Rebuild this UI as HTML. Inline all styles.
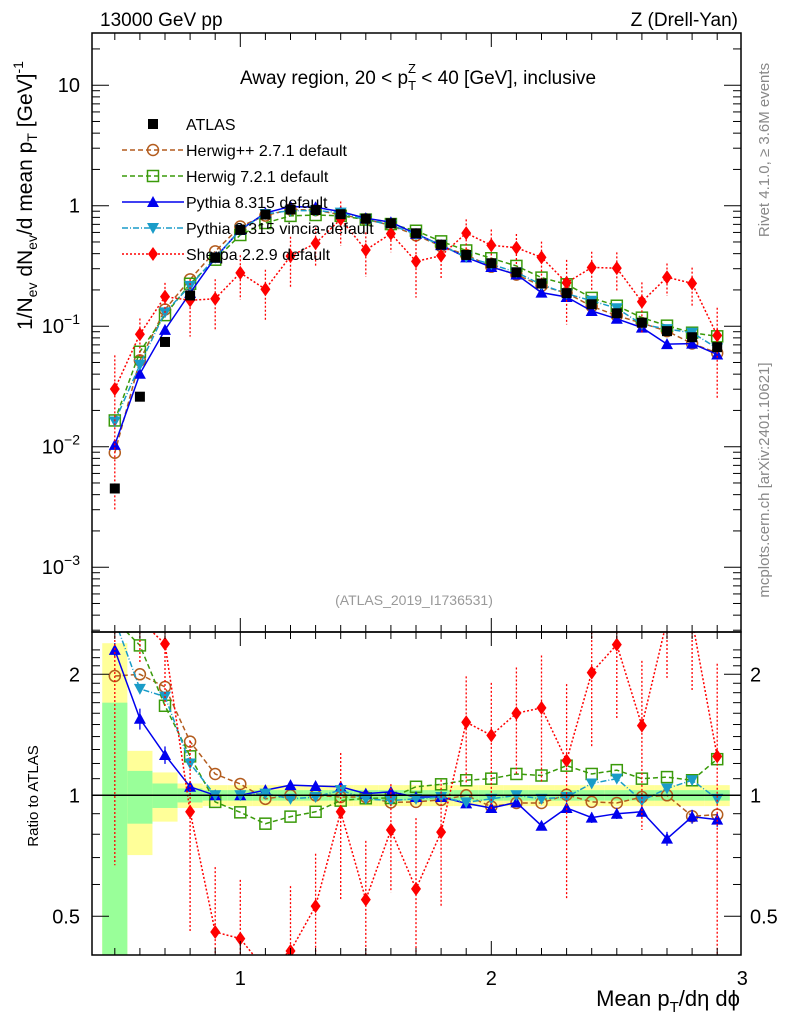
<!DOCTYPE html>
<html><head><meta charset="utf-8">
<style>
html,body{margin:0;padding:0;background:#fff;width:786px;height:1024px;overflow:hidden;}
svg{display:block;font-family:"Liberation Sans",sans-serif;}
</style></head>
<body>
<svg id="chart" width="786" height="1024" viewBox="0 0 786 1024" xmlns="http://www.w3.org/2000/svg">
<defs>
<clipPath id="clipMain"><rect x="92" y="33" width="649" height="599"/></clipPath>
<clipPath id="clipRatio"><rect x="92" y="632" width="649" height="323"/></clipPath>
</defs>
<g id="bands" clip-path="url(#clipRatio)"></g>
<g id="marks"></g>
<g id="axes" stroke="#000" stroke-width="1"></g>
<rect x="92" y="33" width="649" height="599" fill="none" stroke="#000" stroke-width="1.5"/>
<rect x="92" y="632" width="649" height="323" fill="none" stroke="#000" stroke-width="1.5"/>
<line x1="92" y1="795.3" x2="741" y2="795.3" stroke="#000" stroke-width="1.5"/>
<text x="100" y="26" font-size="19">13000 GeV pp</text>
<text x="738" y="26" font-size="19" text-anchor="end">Z (Drell-Yan)</text>
<text x="418" y="84" font-size="19" text-anchor="middle">Away region, 20 &lt; p<tspan font-size="13" dy="6">T</tspan><tspan font-size="13" dx="-8" dy="-17">Z</tspan><tspan dy="11"> &lt; 40 [GeV], inclusive</tspan></text>
<text x="414" y="605" font-size="14" fill="#999" text-anchor="middle">(ATLAS_2019_I1736531)</text>
<text transform="translate(769,150) rotate(-90)" font-size="15" fill="#888" text-anchor="middle">Rivet 4.1.0, ≥ 3.6M events</text>
<text transform="translate(769,480) rotate(-90)" font-size="15" fill="#888" text-anchor="middle">mcplots.cern.ch [arXiv:2401.10621]</text>
<text transform="translate(32,330) rotate(-90)" font-size="21" text-anchor="start">1/N<tspan font-size="14" dy="5">ev</tspan><tspan dy="-5"> dN</tspan><tspan font-size="14" dy="5">ev</tspan><tspan dy="-5">/d mean p</tspan><tspan font-size="14" dy="5">T</tspan><tspan dy="-5"> [GeV]</tspan><tspan font-size="14" dy="-9">-1</tspan></text>
<text transform="translate(38,796) rotate(-90)" font-size="15" text-anchor="middle">Ratio to ATLAS</text>
<text x="740" y="1006" font-size="22" text-anchor="end">Mean p<tspan font-size="15" dy="6">T</tspan><tspan dy="-6">/dη dϕ</tspan></text>
<g id="legend"></g>
</svg>
<script>
const xs = [0.5,0.6,0.7,0.8,0.9,1.0,1.1,1.2,1.3,1.4,1.5,1.6,1.7,1.8,1.9,2.0,2.1,2.2,2.3,2.4,2.5,2.6,2.7,2.8,2.9];
const atlas = [0.0045,0.026,0.074,0.18,0.37,0.63,0.845,0.93,0.92,0.85,0.78,0.715,0.59,0.475,0.39,0.333,0.28,0.226,0.188,0.152,0.128,0.107,0.091,0.081,0.067];
const yellowErr = [1.39,0.29,0.14,0.07,0.06,0.06,0.06,0.06,0.06,0.06,0.06,0.06,0.06,0.06,0.06,0.06,0.06,0.06,0.06,0.06,0.06,0.06,0.06,0.06,0.06];
const greenErr = [0.7,0.15,0.07,0.04,0.03,0.03,0.03,0.03,0.03,0.03,0.03,0.03,0.03,0.03,0.03,0.03,0.03,0.03,0.03,0.03,0.03,0.03,0.03,0.03,0.03];
const ratioHerwigpp = [1.98,2.0,1.86,1.36,1.13,1.067,0.98,1.0,1.0,0.99,0.99,0.96,0.963,0.974,1.0,0.937,0.957,0.957,1.003,0.963,0.957,0.99,1.0,0.887,0.895];
const ratioHerwig7 = [3.67,2.36,1.67,1.25,0.963,0.907,0.85,0.885,0.91,0.97,0.983,0.985,1.05,1.065,1.09,1.1,1.13,1.12,1.185,1.13,1.155,1.1,1.11,1.09,1.23];
const ratioPythia = [2.3,1.55,1.26,1.05,1.0,1.0,1.03,1.06,1.055,1.05,1.01,1.02,0.99,0.99,0.955,0.93,0.96,0.84,0.93,0.88,0.9,0.91,0.78,0.885,0.87];
const ratioVincia = [3.6,1.84,1.76,1.2,1.0,1.0,1.01,0.98,0.99,1.03,0.98,0.97,0.98,0.99,0.96,0.98,1.0,0.98,0.99,1.07,1.1,0.97,1.04,1.09,0.98];
const ratioSherpa = [6.7,3.3,2.38,0.91,0.457,0.44,0.24,0.41,0.53,0.91,0.55,0.82,0.585,0.81,1.52,1.41,1.6,1.65,1.22,2.02,2.37,1.49,2.8,2.8,1.25];
const errSherpa = [0.9,0.35,0.3,0.5,0.45,0.4,0.45,0.45,0.35,0.4,0.4,0.3,0.5,0.35,0.3,0.35,0.3,0.35,0.55,0.35,0.35,0.45,0.3,0.35,0.7];
const errPythia = [0.04,0.06,0.05,0.03,0.02,0.02,0.02,0.02,0.02,0.02,0.02,0.02,0.02,0.02,0.02,0.02,0.02,0.02,0.03,0.03,0.03,0.03,0.04,0.04,0.04];
const yTickLabels = ["10","1","10⁻¹","10⁻²","10⁻³"];
const ratioTickLabels = ["2","1","0.5"];
const xTickLabels = ["1","2","3"];

const NS="http://www.w3.org/2000/svg";
const X = v => 240.3 + (v-1)*251;
const clamp=(v,a,b)=>Math.min(b,Math.max(a,v));
const YM = v => clamp(205.7 - 120.5*Math.log10(Math.max(v,1e-9)), 20, 645);
const YR = r => clamp(795.3 - 121*Math.log2(Math.max(r,0.01)), 620, 970);
function mk(tag, attrs, parent){const e=document.createElementNS(NS,tag);for(const k in attrs)e.setAttribute(k,attrs[k]);parent.appendChild(e);return e;}
const svg=document.getElementById('chart');
const marks=document.getElementById('marks');
const axes=document.getElementById('axes');
const bands=document.getElementById('bands');

xs.forEach((x,i)=>{
  const x0=X(x-0.05), w=X(x+0.05)-x0;
  const y1=mk('rect',{x:x0,y:YR(1+yellowErr[i]),width:w,height:YR(Math.max(1-yellowErr[i],0.01))-YR(1+yellowErr[i]),fill:'#ffff99'},bands);
  
  
  const g1=mk('rect',{x:x0,y:YR(1+greenErr[i]),width:w,height:YR(Math.max(1-greenErr[i],0.01))-YR(1+greenErr[i]),fill:'#99ff99'},bands);
  
  
});

function marker(type,cx,cy,color,parent){
  let e;
  if(type==='square') e=mk('rect',{x:cx-5,y:cy-5,width:10,height:10,fill:color},parent);
  else if(type==='circle') e=mk('circle',{cx:cx,cy:cy,r:5.5,fill:'none',stroke:color,'stroke-width':1.5},parent);
  else if(type==='osquare') e=mk('rect',{x:cx-5.5,y:cy-5.5,width:11,height:11,fill:'none',stroke:color,'stroke-width':1.5},parent);
  else if(type==='tri') e=mk('polygon',{points:`${cx},${cy-6} ${cx-6},${cy+5} ${cx+6},${cy+5}`,fill:color},parent);
  else if(type==='itri') e=mk('polygon',{points:`${cx},${cy+6} ${cx-6},${cy-5} ${cx+6},${cy-5}`,fill:color},parent);
  else if(type==='diamond') e=mk('polygon',{points:`${cx},${cy-7} ${cx-5},${cy} ${cx},${cy+7} ${cx+5},${cy}`,fill:color},parent);
  return e;
}

const series=[
  {name:'herwigpp',label:'Herwig++ 2.7.1 default',r:ratioHerwigpp,color:'#b35c1e',m:'circle',dash:'5,3',err:null},
  {name:'herwig7',label:'Herwig 7.2.1 default',r:ratioHerwig7,color:'#3a9a0a',m:'osquare',dash:'5,3',err:null},
  {name:'pythia',label:'Pythia 8.315 default',r:ratioPythia,color:'#0000ee',m:'tri',dash:'',err:errPythia},
  {name:'vincia',label:'Pythia 8.315 vincia-default',r:ratioVincia,color:'#1a9cc8',m:'itri',dash:'6,2,1,2',err:null},
  {name:'sherpa',label:'Sherpa 2.2.9 default',r:ratioSherpa,color:'#ff0000',m:'diamond',dash:'2,2',err:errSherpa},
];

function drawPad(clip, yfn, valfn, pad){
  const g=mk('g',{'clip-path':`url(#${clip})`},marks);
  
  
  series.forEach(s=>{
    const vals=xs.map((x,i)=>valfn(s,i));
    const pts=xs.map((x,i)=>`${X(x)},${yfn(vals[i])}`).join(' ');
    const pl=mk('polyline',{points:pts,fill:'none',stroke:s.color,'stroke-width':1.5,'stroke-dasharray':s.dash},g);
    
    
    xs.forEach((x,i)=>{
      if(s.err){
        const e=s.err[i];
        const l=mk('line',{x1:X(x),x2:X(x),y1:yfn(vals[i]*(1+e)),y2:yfn(Math.max(vals[i]*(1-e),1e-6)),stroke:s.color,'stroke-width':1.3,'stroke-dasharray':s.dash},g);
        
        
      }
      const m=marker(s.m,X(x),yfn(vals[i]),s.color,g);
      
      
    });
  });
  return g;
}
const gm=drawPad('clipMain',YM,(s,i)=>atlas[i]*s.r[i],'main');
xs.forEach((x,i)=>{
  const m=marker('square',X(x),YM(atlas[i]),'#000',gm);
  
  
});
drawPad('clipRatio',YR,(s,i)=>s.r[i],'ratio');

function tick(x1,y1,x2,y2){mk('line',{x1,y1,x2,y2},axes);}
function txt(x,y,s,anchor,size,name){const t=mk('text',{x,y,'font-size':size,'text-anchor':anchor,stroke:'none'},svg);t.textContent=s;return t;}
for(let k=5;k<=30;k++){
  const v=k/10, x=X(v); if(x<92||x>741.5)continue;
  const major=(k%10===0), L=major?14:7;
  [[632,-1],[33,1],[955,-1],[632,1]].forEach(([y,d])=>tick(x,y,x,y+d*L));
}
xTickLabels.forEach((s,i)=>txt(X(i+1),985,s,'middle',20,'x-tick-label'));
for(let d=-4;d<=1;d++){
  for(let m=1;m<=9;m++){
    const v=m*Math.pow(10,d), y=205.7-120.5*Math.log10(v); if(y<33||y>632)continue;
    const L=m===1?17:8;
    tick(92,y,92+L,y); tick(741,y,741-L,y);
  }
}
yTickLabels.forEach((s,i)=>{
  const y=205.7-120.5*(1-i);
  if(i<2) txt(80,y+7,s,'end',20,'y-tick-label');
  else {
    const t=txt(80,y+7,'10','end',20,'y-tick-label');
    const sp=mk('tspan',{'font-size':14,dy:-9},t); sp.textContent='−'+(i-1);
  }
});
const rt=[0.4,0.5,0.6,0.7,0.8,0.9,1,1.1,1.2,1.3,1.4,1.5,1.6,1.7,1.8,1.9,2,2.1,2.2,2.3];
rt.forEach(r=>{const y=795.3-121*Math.log2(r); if(y<632||y>955)return; const maj=(r===0.5||r===1||r===2); const L=maj?17:8; tick(92,y,92+L,y); tick(741,y,741-L,y);});
ratioTickLabels.forEach(s=>{const y=YR(parseFloat(s))+7; txt(80,y,s,'end',20,'ratio-tick-label-left'); txt(750,y,s,'start',20,'ratio-tick-label-right');});

const lg=document.getElementById('legend');


const le0=mk('g',{},lg);


marker('square',153,124,'#000',le0);
const t0=mk('text',{x:186,y:130,'font-size':16},le0); t0.textContent='ATLAS';
series.forEach((s,i)=>{
  const y=150+26*i;
  const g=mk('g',{},lg);
  
  
  mk('line',{x1:122,x2:184,y1:y,y2:y,stroke:s.color,'stroke-width':1.5,'stroke-dasharray':s.dash},g);
  marker(s.m,153,y,s.color,g);
  const t=mk('text',{x:186,y:y+6,'font-size':16},g); t.textContent=s.label;
});
</script>
</body></html>
